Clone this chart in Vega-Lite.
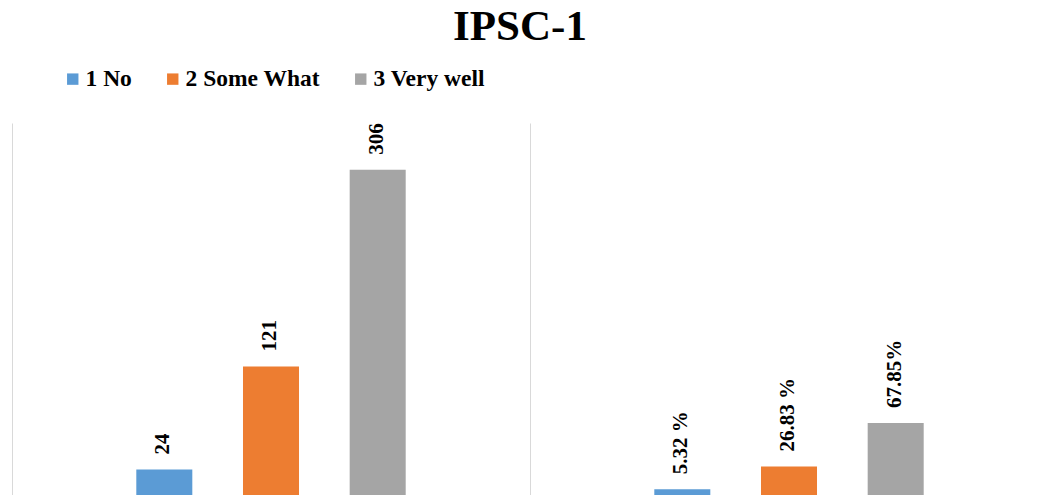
{
  "$schema": "https://vega.github.io/schema/vega-lite/v6.json",
  "autosize": {"type": "none"},
  "width": 1028,
  "height": 372,
  "padding": {"left": 12, "top": 123, "right": 0, "bottom": 0},
  "background": "white",
  "title": {
    "text": "IPSC-1",
    "font": "Liberation Serif",
    "fontSize": 43,
    "fontWeight": "bold",
    "color": "black",
    "anchor": "middle",
    "dx": -6,
    "offset": 18
  },
  "config": {
    "view": {"stroke": null},
    "legend": {
      "orient": "none",
      "legendX": 49,
      "legendY": -56,
      "direction": "horizontal",
      "padding": 0,
      "columnPadding": 29,
      "labelFont": "Liberation Serif",
      "labelFontSize": 23.5,
      "labelFontWeight": "bold",
      "labelColor": "black",
      "labelOffset": 1,
      "symbolType": "square",
      "symbolSize": 130,
      "symbolStrokeWidth": 0,
      "title": null
    }
  },
  "data": {
    "values": [
      {"group": "Count", "cat": "1 No", "value": 24, "label": "24"},
      {"group": "Count", "cat": "2 Some What", "value": 121, "label": "121"},
      {"group": "Count", "cat": "3 Very well", "value": 306, "label": "306"},
      {"group": "Percent", "cat": "1 No", "value": 5.32, "label": "5.32 %"},
      {"group": "Percent", "cat": "2 Some What", "value": 26.83, "label": "26.83 %"},
      {"group": "Percent", "cat": "3 Very well", "value": 67.85, "label": "67.85%"}
    ]
  },
  "encoding": {
    "x": {
      "field": "group",
      "type": "nominal",
      "sort": ["Count", "Percent"],
      "scale": {"range": [0, 1036], "paddingInner": 0.068, "paddingOuter": 0.034},
      "axis": {
        "title": null,
        "labels": false,
        "ticks": false,
        "domain": false,
        "grid": true,
        "bandPosition": -0.0364,
        "gridColor": "#d9d9d9",
        "gridWidth": 1
      }
    },
    "xOffset": {
      "field": "cat",
      "type": "nominal",
      "sort": ["1 No", "2 Some What", "3 Very well"],
      "scale": {"paddingInner": 0.475, "paddingOuter": 1}
    },
    "y": {
      "field": "value",
      "type": "quantitative",
      "scale": {"domain": [0, 350]},
      "axis": null
    }
  },
  "layer": [
    {
      "mark": {"type": "bar"},
      "encoding": {
        "color": {
          "field": "cat",
          "type": "nominal",
          "sort": ["1 No", "2 Some What", "3 Very well"],
          "scale": {
            "domain": ["1 No", "2 Some What", "3 Very well"],
            "range": ["#5B9BD5", "#ED7D31", "#A5A5A5"]
          }
        }
      }
    },
    {
      "mark": {
        "type": "text",
        "angle": -90,
        "align": "left",
        "baseline": "middle",
        "dx": 15,
        "dy": -1,
        "font": "Liberation Serif",
        "fontSize": 21,
        "fontWeight": "bold",
        "color": "black"
      },
      "encoding": {
        "text": {"field": "label"}
      }
    }
  ]
}
